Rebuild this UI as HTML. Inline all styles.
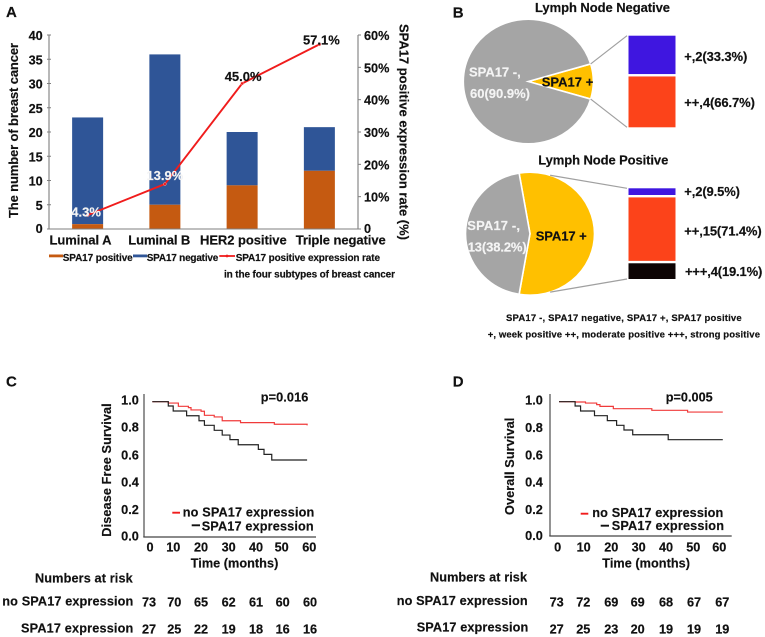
<!DOCTYPE html>
<html lang="en"><head><meta charset="utf-8"><title>SPA17 expression in breast cancer</title>
<style>
html,body{margin:0;padding:0;background:#fff;width:765px;height:637px;overflow:hidden}
svg{display:block;filter:blur(0.35px)}
text{font-family:"Liberation Sans",sans-serif;font-weight:700;fill:#111;stroke:#111;stroke-width:.18px}
.p{font-size:15px}.a{font-size:13px}.t{font-size:12.7px}.l{font-size:10px}.f{font-size:9.5px}.k{font-size:12.7px}
.m{text-anchor:middle}.e{text-anchor:end}.w{fill:#f4f4f4;stroke:#f4f4f4}
</style></head><body>
<svg id="fig" xmlns="http://www.w3.org/2000/svg" width="765" height="637" viewBox="0 0 765 637">
<g id="panelA">
<text class="p" x="6" y="17">A</text>
<text class="a" transform="translate(18 218) rotate(-90)" textLength="175">The number of breast cancer</text>
<text class="a" transform="translate(399.5 24) rotate(90)" textLength="216">SPA17 positive expression rate (%)</text>
<g id="plotA"></g>
<text class="a" x="49.5" y="244.5" textLength="62">Luminal A</text>
<text class="a" x="128.3" y="244.5" textLength="62">Luminal B</text>
<text class="a" x="200" y="244.5" textLength="86.7">HER2 positive</text>
<text class="a" x="295.7" y="244.5" textLength="90">Triple negative</text>
<rect x="49" y="254.5" width="14" height="2.8" fill="#c55a11"/>
<text class="l" x="62.7" y="261" textLength="70">SPA17 positive</text>
<rect x="133" y="254.5" width="14" height="2.8" fill="#2f5597"/>
<text class="l" x="146.7" y="261" textLength="71.6">SPA17 negative</text>
<line x1="219.3" y1="256" x2="235" y2="256" stroke="#f01c1c" stroke-width="1.8"/>
<circle cx="227" cy="256" r="1.4" fill="#f01c1c"/>
<text class="l" x="235.7" y="261" textLength="144.3">SPA17 positive expression rate</text>
<text class="l" x="224" y="277.5" textLength="171">in the four subtypes of breast cancer</text>
</g>
<g id="panelB">
<text class="p" x="452.7" y="17.3">B</text>
<text class="a" x="535" y="12" textLength="135">Lymph Node Negative</text>
<text class="a" x="538.3" y="164.3" textLength="130">Lymph Node Positive</text>
<g id="piesB"></g>
<text class="a w" x="469" y="76.7" textLength="51.7">SPA17 -,</text>
<text class="a w" x="470" y="98" textLength="60">60(90.9%)</text>
<text class="a" x="541.7" y="86.7" textLength="51.6">SPA17 +</text>
<text class="a w" x="467.3" y="230" textLength="52.7">SPA17 -,</text>
<text class="a w" x="467.7" y="251.7" textLength="59">13(38.2%)</text>
<text class="a" x="535.7" y="240.7" textLength="51">SPA17 +</text>
<text class="a" x="684.3" y="61" textLength="63">+,2(33.3%)</text>
<text class="a" x="684.3" y="107" textLength="70.7">++,4(66.7%)</text>
<text class="a" x="684.3" y="196" textLength="55.7">+,2(9.5%)</text>
<text class="a" x="684.3" y="235.7" textLength="77.4">++,15(71.4%)</text>
<text class="a" x="685" y="276" textLength="77.3">+++,4(19.1%)</text>
<text class="f" x="506" y="321" textLength="235.7">SPA17 -, SPA17 negative, SPA17 +, SPA17 positive</text>
<text class="f" x="487.7" y="337.3" textLength="272.3">+, week positive ++, moderate positive +++, strong positive</text>
</g>
<g id="panelC">
<text class="p" x="6" y="386.7">C</text>
<line x1="144" y1="394" x2="144" y2="537" stroke="#666" stroke-width="1.4"/>
<line x1="143.3" y1="537" x2="316" y2="537" stroke="#444" stroke-width="1.2"/>
<text class="t" x="260.7" y="401.7" textLength="47.6">p=0.016</text>
<text class="t m" x="130" y="404.3">1.0</text>
<text class="t m" x="130" y="431.7">0.8</text>
<text class="t m" x="130" y="459.3">0.6</text>
<text class="t m" x="130" y="486.3">0.4</text>
<text class="t m" x="130" y="514">0.2</text>
<text class="t m" x="130" y="540.7">0.0</text>
<text class="t" transform="translate(111 536.7) rotate(-90)" textLength="133.4">Disease Free Survival</text>
<text class="t m" x="150" y="551.7">0</text>
<text class="t m" x="173.3" y="551.7">10</text>
<text class="t m" x="201" y="551.7">20</text>
<text class="t m" x="228.7" y="551.7">30</text>
<text class="t m" x="256" y="551.7">40</text>
<text class="t m" x="281.7" y="551.7">50</text>
<text class="t m" x="309.3" y="551.7">60</text>
<text class="t" x="190.7" y="567.3" textLength="87.6">Time (months)</text>
<line x1="172.3" y1="512.7" x2="180" y2="512.7" stroke="#f01c1c" stroke-width="1.9"/>
<text class="t" x="182.7" y="516.7" textLength="131.6">no SPA17 expression</text>
<line x1="191.7" y1="525.3" x2="200" y2="525.3" stroke="#111" stroke-width="1.9"/>
<text class="t" x="201.7" y="530.7" textLength="112">SPA17 expression</text>
<text class="k" x="35" y="582.3" textLength="97.7">Numbers at risk</text>
<text class="k" x="2.3" y="605.7" textLength="131">no SPA17 expression</text>
<text class="k" x="21" y="632.3" textLength="112.3">SPA17 expression</text>
<g>
<text class="k m" x="149" y="606.7">73</text><text class="k m" x="174.3" y="606.7">70</text><text class="k m" x="201" y="606.7">65</text><text class="k m" x="228.7" y="606.7">62</text><text class="k m" x="256" y="606.7">61</text><text class="k m" x="282.7" y="606.7">60</text><text class="k m" x="310" y="606.7">60</text>
</g>
<g>
<text class="k m" x="149" y="633.3">27</text><text class="k m" x="174.3" y="633.3">25</text><text class="k m" x="201" y="633.3">22</text><text class="k m" x="228.7" y="633.3">19</text><text class="k m" x="256" y="633.3">18</text><text class="k m" x="282.7" y="633.3">16</text><text class="k m" x="310" y="633.3">16</text>
</g>
</g>
<g id="panelD">
<text class="p" x="452.7" y="386.7">D</text>
<line x1="550" y1="394" x2="550" y2="536" stroke="#666" stroke-width="1.4"/>
<line x1="549.3" y1="536" x2="731.7" y2="536" stroke="#444" stroke-width="1.2"/>
<text class="t" x="665.7" y="401.7" textLength="47">p=0.005</text>
<text class="t m" x="534" y="404.3">1.0</text>
<text class="t m" x="534" y="432">0.8</text>
<text class="t m" x="534" y="459.3">0.6</text>
<text class="t m" x="534" y="486.3">0.4</text>
<text class="t m" x="534" y="514">0.2</text>
<text class="t m" x="534" y="540">0.0</text>
<text class="t" transform="translate(514 515) rotate(-90)" textLength="97.3">Overall Survival</text>
<text class="t m" x="557.7" y="551.7">0</text>
<text class="t m" x="583.7" y="551.7">10</text>
<text class="t m" x="611.3" y="551.7">20</text>
<text class="t m" x="638.7" y="551.7">30</text>
<text class="t m" x="666" y="551.7">40</text>
<text class="t m" x="693.3" y="551.7">50</text>
<text class="t m" x="719.3" y="551.7">60</text>
<text class="t" x="602.3" y="567.3" textLength="87.7">Time (months)</text>
<line x1="580.7" y1="513.7" x2="588.3" y2="513.7" stroke="#f01c1c" stroke-width="1.9"/>
<text class="t" x="592.3" y="517" textLength="131">no SPA17 expression</text>
<line x1="600.7" y1="525.7" x2="609" y2="525.7" stroke="#111" stroke-width="1.9"/>
<text class="t" x="611.7" y="530" textLength="112.3">SPA17 expression</text>
<text class="k" x="430" y="581.3" textLength="97">Numbers at risk</text>
<text class="k" x="396.7" y="605" textLength="131">no SPA17 expression</text>
<text class="k" x="416.7" y="631.7" textLength="111.6">SPA17 expression</text>
<g>
<text class="k m" x="556.7" y="606.7">73</text><text class="k m" x="583.3" y="606.7">72</text><text class="k m" x="611.3" y="606.7">69</text><text class="k m" x="637.7" y="606.7">69</text><text class="k m" x="666" y="606.7">68</text><text class="k m" x="694" y="606.7">67</text><text class="k m" x="722.3" y="606.7">67</text>
</g>
<g>
<text class="k m" x="556.7" y="633.3">27</text><text class="k m" x="583.3" y="633.3">25</text><text class="k m" x="611.3" y="633.3">23</text><text class="k m" x="637.7" y="633.3">20</text><text class="k m" x="666" y="633.3">19</text><text class="k m" x="694" y="633.3">19</text><text class="k m" x="722.3" y="633.3">19</text>
</g>
</g>
</svg>
<script>
// Panel A data
const categories = ['Luminal A', 'Luminal B', 'HER2 positive', 'Triple negative'];
const spa17Positive = [1, 5, 9, 12];
const spa17Negative = [22, 31, 11, 9];
const positiveRate = [4.3, 13.9, 45.0, 57.1];
const rateLabels = ['4.3%', '13.9%', '45.0%', '57.1%'];
const countTicks = [0, 5, 10, 15, 20, 25, 30, 35, 40];
const rateTicks = [0, 10, 20, 30, 40, 50, 60];
// Panel B data (slice sizes and segment shares as drawn in the picture)
const pieNegativeNode = [60, 6];
const piePositiveNode = [44.6, 55.4];
const stackNegativeNode = [43, 57];
const stackPositiveNode = [7.8, 73.9, 18.3];
// Panel C data
const cTimesRed = [0, 6.2, 10.1, 14, 15, 18.9, 20.2, 24, 27.1, 34.2, 47.3, 60];
const cSurvRed = [1, 0.99, 0.966, 0.956, 0.939, 0.929, 0.899, 0.887, 0.859, 0.845, 0.833, 0.825];
const cTimesBlack = [0, 6.2, 8.1, 13.3, 18.1, 20.2, 24, 27.1, 30.1, 33.3, 41.1, 43.3, 46.3, 60];
const cSurvBlack = [1, 0.968, 0.931, 0.896, 0.859, 0.825, 0.788, 0.753, 0.719, 0.681, 0.647, 0.61, 0.568, 0.568];
// Panel D data
const dTimesRed = [0, 5.9, 9.7, 13.8, 15, 19.9, 34, 47.1, 60];
const dSurvRed = [1, 0.998, 0.99, 0.978, 0.965, 0.948, 0.936, 0.923, 0.923];
const dTimesBlack = [0, 5.9, 7.9, 13, 17.7, 21.1, 23.8, 27, 40, 60];
const dSurvBlack = [1, 0.968, 0.931, 0.896, 0.859, 0.824, 0.789, 0.754, 0.717, 0.717];

const NS = 'http://www.w3.org/2000/svg';
function make(parent, tag, attrs, txt) {
  const el = document.createElementNS(NS, tag);
  for (const k in attrs) el.setAttribute(k, attrs[k]);
  if (txt !== undefined) el.textContent = txt;
  parent.appendChild(el);
  return el;
}

// ---- Panel A ----
const plotA = document.getElementById('plotA');
const aLeft = 49, aRight = 358, aBase = 229, aTop = 35;
const yCount = v => aBase - (v / 40) * (aBase - aTop);
const yRate = v => aBase - (v / 60) * (aBase - aTop);
const xBand = i => aLeft + (aRight - aLeft) * (i + 0.5) / categories.length;
const barW = 31;

categories.forEach((c, i) => {
  const p = spa17Positive[i], n = spa17Negative[i];
  const neg = make(plotA, 'rect', { x: xBand(i) - barW / 2, y: yCount(p + n), width: barW, height: yCount(p) - yCount(p + n), fill: '#2f5597' });
  
  
  const pos = make(plotA, 'rect', { x: xBand(i) - barW / 2, y: yCount(p), width: barW, height: yCount(0) - yCount(p), fill: '#c55a11' });
  
  
});

const axisPath = make(plotA, 'path', { d: `M${aLeft} ${aTop}V${aBase}H${aRight}V${aTop}`, fill: 'none', stroke: '#7f7f7f', 'stroke-width': 1.1 });



countTicks.forEach(v => {
  const tick = make(plotA, 'line', { x1: aLeft - 2, x2: aLeft + 2, y1: yCount(v), y2: yCount(v), stroke: '#7f7f7f', 'stroke-width': 1 });
  
  
  const lab = make(plotA, 'text', { class: 't e', x: 42.7, y: yCount(v) + (v === 0 ? 4 : 5) }, String(v));
  
  
});
rateTicks.forEach(v => {
  const tick = make(plotA, 'line', { x1: aRight, x2: aRight + 3, y1: yRate(v), y2: yRate(v), stroke: '#7f7f7f', 'stroke-width': 1 });
  
  
  const lab = make(plotA, 'text', { class: 't', x: 364, y: yRate(v) + (v === 0 ? 4 : 5) }, v === 0 ? '0' : v + '%');
  
  
});

const ratePts = positiveRate.map((v, i) => `${xBand(i)},${yRate(v)}`).join(' ');
const rateLine = make(plotA, 'polyline', { points: ratePts, fill: 'none', stroke: '#f01c1c', 'stroke-width': 1.9 });


positiveRate.forEach((v, i) => {
  const pt = make(plotA, 'circle', { cx: xBand(i), cy: yRate(v), r: 1.5, fill: '#f01c1c', stroke: '#f6a0a0', 'stroke-width': 0.5 });
  
  
  const lift = [1.4, -4, -2.5, 0.3][i];
  const lab = make(plotA, 'text', { class: i < 2 ? 'a m w' : 'a m', x: xBand(i) + [-1.5, 0, 1, 2][i], y: yRate(v) + lift }, rateLabels[i]);
  
  
});

// ---- Panel B ----
const piesB = document.getElementById('piesB');
const stackColors = ['#3f16e0', '#fc431a', '#0d0404'];
function drawPieAndStack(values, cx, cy, rx, ry, stack, stackTop, stackBottom, connectorShare) {
  const total = values[0] + values[1];
  const half = Math.PI * values[1] / total;
  const px = a => cx + rx * Math.cos(a);
  const py = a => cy + ry * Math.sin(a);
  const large = values[1] > values[0] ? 1 : 0;
  const yellow = make(piesB, 'path', { d: `M${cx} ${cy}L${px(-half)} ${py(-half)}A${rx} ${ry} 0 ${large} 1 ${px(half)} ${py(half)}Z`, fill: '#ffc000', stroke: '#fff', 'stroke-width': 1.6 });
  
  
  const gray = make(piesB, 'path', { d: `M${cx} ${cy}L${px(half)} ${py(half)}A${rx} ${ry} 0 ${1 - large} 1 ${px(-half)} ${py(-half)}Z`, fill: '#a5a5a5', stroke: '#fff', 'stroke-width': 1.6 });
  
  

  const x0 = 628.5, w = 47, gap = 2.4;
  const sum = stack.reduce((a, b) => a + b, 0);
  const usable = stackBottom - stackTop - gap * (stack.length - 1);
  let y = stackTop;
  stack.forEach((v, i) => {
    const h = usable * v / sum;
    const seg = make(piesB, 'rect', { x: x0, y: y, width: w, height: h, fill: stackColors[i] });
    
    
    y += h + gap;
  });
  const ca = half * connectorShare;
  const c1 = make(piesB, 'line', { x1: px(-ca), y1: py(-ca), x2: x0 - 1.5, y2: stackTop, stroke: '#a0a0a0', 'stroke-width': 1.2 });
  
  
  const c2 = make(piesB, 'line', { x1: px(ca), y1: py(ca), x2: x0 - 1.5, y2: stackBottom, stroke: '#a0a0a0', 'stroke-width': 1.2 });
  
  
}
drawPieAndStack(pieNegativeNode, 528.3, 81.5, 65, 62.3, stackNegativeNode, 35.7, 127.3, 1);
drawPieAndStack(piePositiveNode, 530, 233.7, 64.5, 61.5, stackPositiveNode, 188.3, 279, 0.72);

// ---- Panels C and D ----
function stepPath(times, surv, xf, yf) {
  let d = `M${xf(times[0])} ${yf(surv[0])}`;
  for (let i = 1; i < times.length; i++) {
    d += `H${xf(times[i])}V${yf(surv[i])}`;
  }
  return d;
}
const panelC = document.getElementById('panelC');
const panelD = document.getElementById('panelD');
const xC = t => 152.3 + t * 2.58;
const yC = s => 536.7 - s * 135;
const xD = t => 559 + t * 2.73;
const yD = s => 536 - s * 134.3;

const cRed = make(panelC, 'path', { d: stepPath(cTimesRed, cSurvRed, xC, yC), fill: 'none', stroke: '#f03a3a', 'stroke-width': 1.2 });


const cBlack = make(panelC, 'path', { d: stepPath(cTimesBlack, cSurvBlack, xC, yC), fill: 'none', stroke: '#222', 'stroke-width': 1.2 });


const dRed = make(panelD, 'path', { d: stepPath(dTimesRed, dSurvRed, xD, yD), fill: 'none', stroke: '#f03a3a', 'stroke-width': 1.2 });


const dBlack = make(panelD, 'path', { d: stepPath(dTimesBlack, dSurvBlack, xD, yD), fill: 'none', stroke: '#222', 'stroke-width': 1.2 });


</script>
</body></html>
